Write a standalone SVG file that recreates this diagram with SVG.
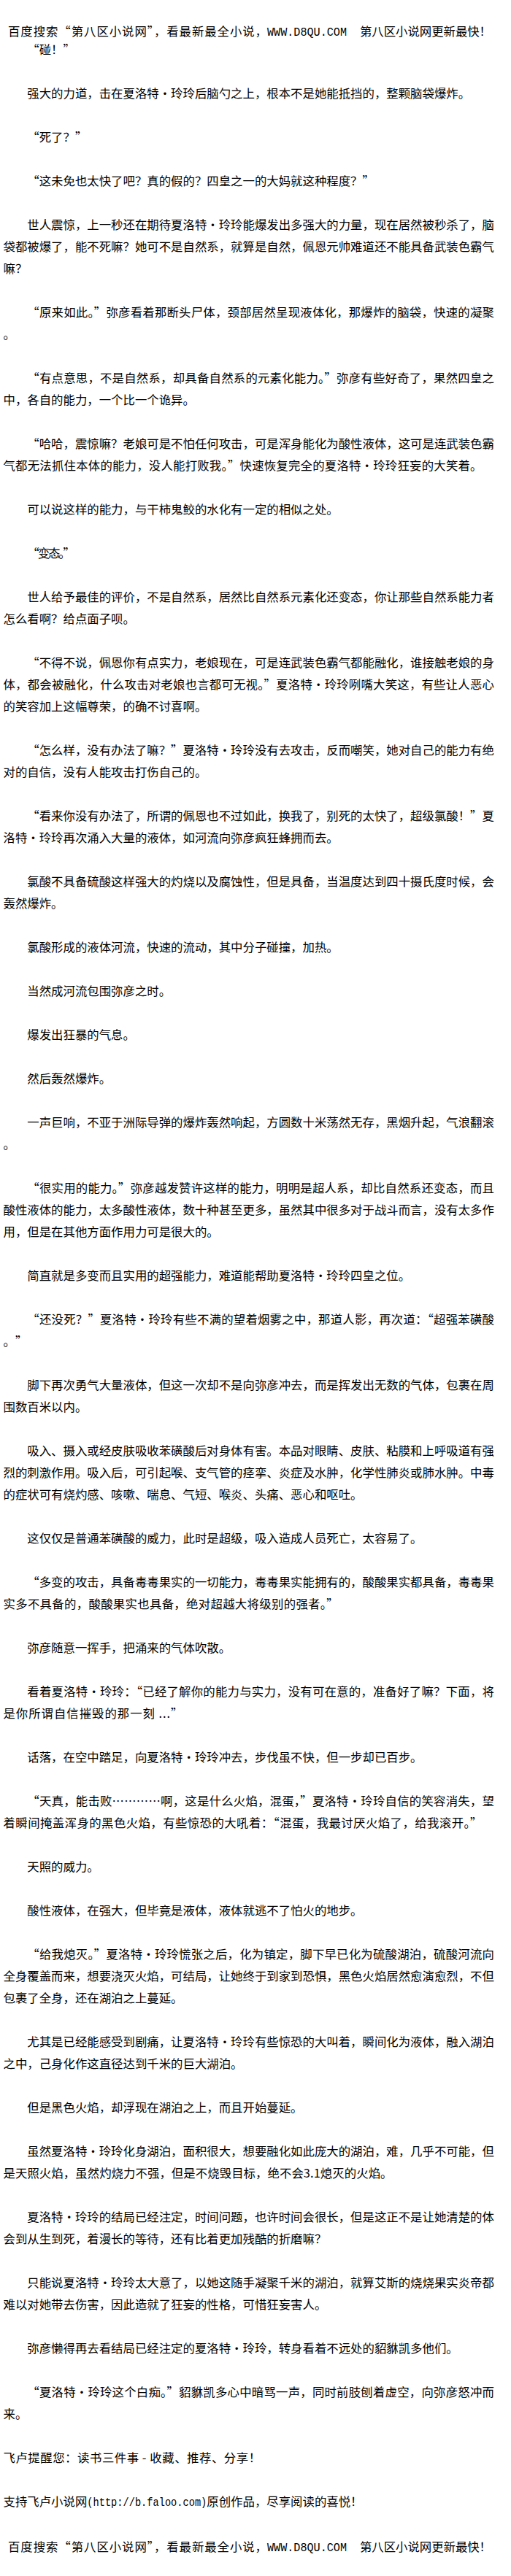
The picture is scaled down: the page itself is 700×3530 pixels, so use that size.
<svg xmlns="http://www.w3.org/2000/svg" width="700" height="3530" viewBox="0 0 700 3530">
<style>
.t{font-family:"Noto Sans CJK SC","Noto Sans CJK JP",sans-serif;font-size:16.4px;fill:#000;white-space:pre}
.m{font-family:"Liberation Mono","DejaVu Sans Mono",monospace;font-size:16.4px;fill:#000}
</style>
<rect x="0" y="0" width="700" height="3530" fill="#fff"/>
<g id="header">
<text class="t" x="11" y="49" textLength="355" lengthAdjust="spacing">百度搜索“第八区小说网”，看最新最全小说，</text>
<text class="m" x="366" y="49" textLength="109" lengthAdjust="spacingAndGlyphs">WWW.D8QU.COM</text>
<text class="t" x="493" y="49" textLength="180" lengthAdjust="spacing">第八区小说网更新最快！</text>
</g>
<g id="body" class="t">
<text class="t" x="37.3" y="74" textLength="65.6" lengthAdjust="spacing">“碰！”</text>
<text class="t" x="37.3" y="134" textLength="606.8" lengthAdjust="spacing">强大的力道，击在夏洛特·玲玲后脑勺之上，根本不是她能抵挡的，整颗脑袋爆炸。</text>
<text class="t" x="37.3" y="194" textLength="82" lengthAdjust="spacing">“死了？”</text>
<text class="t" x="37.3" y="254" textLength="475.6" lengthAdjust="spacing">“这未免也太快了吧？真的假的？四皇之一的大妈就这种程度？”</text>
<text class="t" x="37.3" y="314" textLength="639.6" lengthAdjust="spacing">世人震惊，上一秒还在期待夏洛特·玲玲能爆发出多强大的力量，现在居然被秒杀了，脑</text>
<text class="t" x="4.5" y="344" textLength="672.4" lengthAdjust="spacing">袋都被爆了，能不死嘛？她可不是自然系，就算是自然，佩恩元帅难道还不能具备武装色霸气</text>
<text class="t" x="4.5" y="374" textLength="32.8" lengthAdjust="spacing">嘛？</text>
<text class="t" x="37.3" y="434" textLength="639.6" lengthAdjust="spacing">“原来如此。”弥彦看着那断头尸体，颈部居然呈现液体化，那爆炸的脑袋，快速的凝聚</text>
<text class="t" x="4.5" y="464">。</text>
<text class="t" x="37.3" y="524" textLength="639.6" lengthAdjust="spacing">“有点意思，不是自然系，却具备自然系的元素化能力。”弥彦有些好奇了，果然四皇之</text>
<text class="t" x="4.5" y="554" textLength="262.4" lengthAdjust="spacing">中，各自的能力，一个比一个诡异。</text>
<text class="t" x="37.3" y="614" textLength="639.6" lengthAdjust="spacing">“哈哈，震惊嘛？老娘可是不怕任何攻击，可是浑身能化为酸性液体，这可是连武装色霸</text>
<text class="t" x="4.5" y="644" textLength="656" lengthAdjust="spacing">气都无法抓住本体的能力，没人能打败我。”快速恢复完全的夏洛特·玲玲狂妄的大笑着。</text>
<text class="t" x="37.3" y="704" textLength="426.4" lengthAdjust="spacing">可以说这样的能力，与干柿鬼鲛的水化有一定的相似之处。</text>
<text class="t" x="37.3" y="764" textLength="65.6" lengthAdjust="spacing">“变态。”</text>
<text class="t" x="37.3" y="824" textLength="639.6" lengthAdjust="spacing">世人给予最佳的评价，不是自然系，居然比自然系元素化还变态，你让那些自然系能力者</text>
<text class="t" x="4.5" y="854" textLength="180.4" lengthAdjust="spacing">怎么看啊？给点面子呗。</text>
<text class="t" x="37.3" y="914" textLength="639.6" lengthAdjust="spacing">“不得不说，佩恩你有点实力，老娘现在，可是连武装色霸气都能融化，谁接触老娘的身</text>
<text class="t" x="4.5" y="944" textLength="672.4" lengthAdjust="spacing">体，都会被融化，什么攻击对老娘也言都可无视。”夏洛特·玲玲咧嘴大笑这，有些让人恶心</text>
<text class="t" x="4.5" y="974" textLength="278.8" lengthAdjust="spacing">的笑容加上这幅尊荣，的确不讨喜啊。</text>
<text class="t" x="37.3" y="1034" textLength="639.6" lengthAdjust="spacing">“怎么样，没有办法了嘛？”夏洛特·玲玲没有去攻击，反而嘲笑，她对自己的能力有绝</text>
<text class="t" x="4.5" y="1064" textLength="278.8" lengthAdjust="spacing">对的自信，没有人能攻击打伤自己的。</text>
<text class="t" x="37.3" y="1124" textLength="639.6" lengthAdjust="spacing">“看来你没有办法了，所谓的佩恩也不过如此，换我了，别死的太快了，超级氯酸！”夏</text>
<text class="t" x="4.5" y="1154" textLength="459.2" lengthAdjust="spacing">洛特·玲玲再次涌入大量的液体，如河流向弥彦疯狂蜂拥而去。</text>
<text class="t" x="37.3" y="1214" textLength="639.6" lengthAdjust="spacing">氯酸不具备硫酸这样强大的灼烧以及腐蚀性，但是具备，当温度达到四十摄氏度时候，会</text>
<text class="t" x="4.5" y="1244" textLength="82" lengthAdjust="spacing">轰然爆炸。</text>
<text class="t" x="37.3" y="1304" textLength="426.4" lengthAdjust="spacing">氯酸形成的液体河流，快速的流动，其中分子碰撞，加热。</text>
<text class="t" x="37.3" y="1364" textLength="196.8" lengthAdjust="spacing">当然成河流包围弥彦之时。</text>
<text class="t" x="37.3" y="1424" textLength="147.6" lengthAdjust="spacing">爆发出狂暴的气息。</text>
<text class="t" x="37.3" y="1484" textLength="114.8" lengthAdjust="spacing">然后轰然爆炸。</text>
<text class="t" x="37.3" y="1544" textLength="639.6" lengthAdjust="spacing">一声巨响，不亚于洲际导弹的爆炸轰然响起，方圆数十米荡然无存，黑烟升起，气浪翻滚</text>
<text class="t" x="4.5" y="1574">。</text>
<text class="t" x="37.3" y="1634" textLength="639.6" lengthAdjust="spacing">“很实用的能力。”弥彦越发赞许这样的能力，明明是超人系，却比自然系还变态，而且</text>
<text class="t" x="4.5" y="1664" textLength="672.4" lengthAdjust="spacing">酸性液体的能力，太多酸性液体，数十种甚至更多，虽然其中很多对于战斗而言，没有太多作</text>
<text class="t" x="4.5" y="1694" textLength="295.2" lengthAdjust="spacing">用，但是在其他方面作用力可是很大的。</text>
<text class="t" x="37.3" y="1754" textLength="524.8" lengthAdjust="spacing">简直就是多变而且实用的超强能力，难道能帮助夏洛特·玲玲四皇之位。</text>
<text class="t" x="37.3" y="1814" textLength="639.6" lengthAdjust="spacing">“还没死？”夏洛特·玲玲有些不满的望着烟雾之中，那道人影，再次道：“超强苯磺酸</text>
<text class="t" x="4.5" y="1844" textLength="32.8" lengthAdjust="spacing">。”</text>
<text class="t" x="37.3" y="1904" textLength="639.6" lengthAdjust="spacing">脚下再次勇气大量液体，但这一次却不是向弥彦冲去，而是挥发出无数的气体，包裹在周</text>
<text class="t" x="4.5" y="1934" textLength="114.8" lengthAdjust="spacing">围数百米以内。</text>
<text class="t" x="37.3" y="1994" textLength="639.6" lengthAdjust="spacing">吸入、摄入或经皮肤吸收苯磺酸后对身体有害。本品对眼睛、皮肤、粘膜和上呼吸道有强</text>
<text class="t" x="4.5" y="2024" textLength="672.4" lengthAdjust="spacing">烈的刺激作用。吸入后，可引起喉、支气管的痉挛、炎症及水肿，化学性肺炎或肺水肿。中毒</text>
<text class="t" x="4.5" y="2054" textLength="492" lengthAdjust="spacing">的症状可有烧灼感、咳嗽、喘息、气短、喉炎、头痛、恶心和呕吐。</text>
<text class="t" x="37.3" y="2114" textLength="541.2" lengthAdjust="spacing">这仅仅是普通苯磺酸的威力，此时是超级，吸入造成人员死亡，太容易了。</text>
<text class="t" x="37.3" y="2174" textLength="639.6" lengthAdjust="spacing">“多变的攻击，具备毒毒果实的一切能力，毒毒果实能拥有的，酸酸果实都具备，毒毒果</text>
<text class="t" x="4.5" y="2204" textLength="459.2" lengthAdjust="spacing">实多不具备的，酸酸果实也具备，绝对超越大将级别的强者。”</text>
<text class="t" x="37.3" y="2264" textLength="278.8" lengthAdjust="spacing">弥彦随意一挥手，把涌来的气体吹散。</text>
<text class="t" x="37.3" y="2324" textLength="639.6" lengthAdjust="spacing">看着夏洛特·玲玲：“已经了解你的能力与实力，没有可在意的，准备好了嘛？下面，将</text>
<text class="t" x="4.5" y="2354" textLength="246" lengthAdjust="spacing">是你所谓自信摧毁的那一刻 ...”</text>
<text class="t" x="37.3" y="2414" textLength="541.2" lengthAdjust="spacing">话落，在空中踏足，向夏洛特·玲玲冲去，步伐虽不快，但一步却已百步。</text>
<text class="t" x="37.3" y="2474" textLength="639.6" lengthAdjust="spacing">“天真，能击败…………啊，这是什么火焰，混蛋，”夏洛特·玲玲自信的笑容消失，望</text>
<text class="t" x="4.5" y="2504" textLength="656" lengthAdjust="spacing">着瞬间掩盖浑身的黑色火焰，有些惊恐的大吼着：“混蛋，我最讨厌火焰了，给我滚开。”</text>
<text class="t" x="37.3" y="2564" textLength="98.4" lengthAdjust="spacing">天照的威力。</text>
<text class="t" x="37.3" y="2624" textLength="459.2" lengthAdjust="spacing">酸性液体，在强大，但毕竟是液体，液体就逃不了怕火的地步。</text>
<text class="t" x="37.3" y="2684" textLength="639.6" lengthAdjust="spacing">“给我熄灭。”夏洛特·玲玲慌张之后，化为镇定，脚下早已化为硫酸湖泊，硫酸河流向</text>
<text class="t" x="4.5" y="2714" textLength="672.4" lengthAdjust="spacing">全身覆盖而来，想要浇灭火焰，可结局，让她终于到家到恐惧，黑色火焰居然愈演愈烈，不但</text>
<text class="t" x="4.5" y="2744" textLength="246" lengthAdjust="spacing">包裹了全身，还在湖泊之上蔓延。</text>
<text class="t" x="37.3" y="2804" textLength="639.6" lengthAdjust="spacing">尤其是已经能感受到剧痛，让夏洛特·玲玲有些惊恐的大叫着，瞬间化为液体，融入湖泊</text>
<text class="t" x="4.5" y="2834" textLength="328" lengthAdjust="spacing">之中，己身化作这直径达到千米的巨大湖泊。</text>
<text class="t" x="37.3" y="2894" textLength="377.2" lengthAdjust="spacing">但是黑色火焰，却浮现在湖泊之上，而且开始蔓延。</text>
<text class="t" x="37.3" y="2954" textLength="639.6" lengthAdjust="spacing">虽然夏洛特·玲玲化身湖泊，面积很大，想要融化如此庞大的湖泊，难，几乎不可能，但</text>
<text class="t" x="4.5" y="2984" textLength="533" lengthAdjust="spacing">是天照火焰，虽然灼烧力不强，但是不烧毁目标，绝不会3.1熄灭的火焰。</text>
<text class="t" x="37.3" y="3044" textLength="639.6" lengthAdjust="spacing">夏洛特·玲玲的结局已经注定，时间问题，也许时间会很长，但是这正不是让她清楚的体</text>
<text class="t" x="4.5" y="3074" textLength="442.8" lengthAdjust="spacing">会到从生到死，着漫长的等待，还有比着更加残酷的折磨嘛？</text>
<text class="t" x="37.3" y="3134" textLength="639.6" lengthAdjust="spacing">只能说夏洛特·玲玲太大意了，以她这随手凝聚千米的湖泊，就算艾斯的烧烧果实炎帝都</text>
<text class="t" x="4.5" y="3164" textLength="442.8" lengthAdjust="spacing">难以对她带去伤害，因此造就了狂妄的性格，可惜狂妄害人。</text>
<text class="t" x="37.3" y="3224" textLength="590.4" lengthAdjust="spacing">弥彦懒得再去看结局已经注定的夏洛特·玲玲，转身看着不远处的貂貅凯多他们。</text>
<text class="t" x="37.3" y="3284" textLength="639.6" lengthAdjust="spacing">“夏洛特·玲玲这个白痴。”貂貅凯多心中暗骂一声，同时前肢刨着虚空，向弥彦怒冲而</text>
<text class="t" x="4.5" y="3314" textLength="32.8" lengthAdjust="spacing">来。</text>
<text class="t" x="4.5" y="3374" textLength="352.6" lengthAdjust="spacing">飞卢提醒您：读书三件事 - 收藏、推荐、分享！</text>
<text class="t" x="4.5" y="3434" textLength="114.8" lengthAdjust="spacing">支持飞卢小说网</text>
<text class="m" x="119.3" y="3434" textLength="164" lengthAdjust="spacingAndGlyphs">(http://b.faloo.com)</text>
<text class="t" x="283.3" y="3434" textLength="213.2" lengthAdjust="spacing">原创作品，尽享阅读的喜悦！</text>
</g>
<g id="footer">
<text class="t" x="11" y="3496" textLength="355" lengthAdjust="spacing">百度搜索“第八区小说网”，看最新最全小说，</text>
<text class="m" x="366" y="3496" textLength="109" lengthAdjust="spacingAndGlyphs">WWW.D8QU.COM</text>
<text class="t" x="493" y="3496" textLength="180" lengthAdjust="spacing">第八区小说网更新最快！</text>
</g>
</svg>
